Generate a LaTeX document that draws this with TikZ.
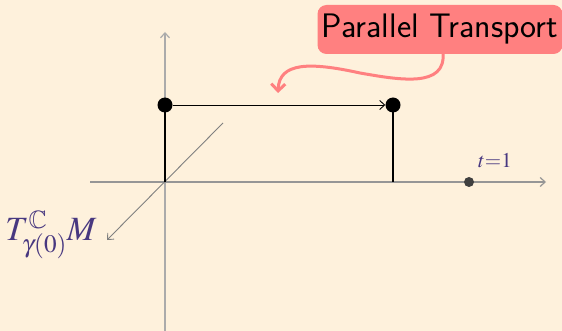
\RequirePackage{fix-cm}
\documentclass[tikz,border=0pt]{standalone}
\usepackage{mathptmx}
\usepackage{amssymb}
\usetikzlibrary{arrows.meta}
\definecolor{bg}{RGB}{254,241,220}
\definecolor{calloutpink}{RGB}{255,128,128}
\definecolor{labelpurple}{RGB}{72,56,128}
\definecolor{axisgray}{RGB}{150,150,150}
\tikzset{
  axis/.style={draw=axisgray, line width=1.2pt, -{Straight Barb[length=5pt,width=9pt]}},
  bigdot/.style={circle, fill=black, inner sep=0pt, minimum size=15pt},
  enddot/.style={circle, fill=black!75, inner sep=0pt, minimum size=10pt},
  stem/.style={draw=black, line width=2.2pt},
  mathlabel/.style={text=labelpurple, inner sep=0pt},
}
\begin{document}
\begin{tikzpicture}[x=1pt,y=-1pt]
\fill[bg] (0,0) rectangle (562,331);
\useasboundingbox (0,0) rectangle (562,331);
% axes
\coordinate (O) at (165,182);
\coordinate (ybot) at (165,335);
\coordinate (ytop) at (165,32);
\coordinate (xleft) at (90,182);
\coordinate (xright) at (546,182);
\coordinate (dup) at (223,123);
\coordinate (ddown) at (107,240);
\draw[axis, draw=axisgray!80] (ybot) -- (ytop);
\draw[axis] (xleft) -- (xright);
\draw[axis, line width=0.9pt, draw=black!50] (dup) -- (ddown);
% stems
\coordinate (b1) at (165,182);
\coordinate (b2) at (393,182);
\node[bigdot] (p1) at (165,105) {};
\node[bigdot] (p2) at (393,105) {};
\draw[stem] (p1.center) -- (b1);
\draw[stem] (p2.center) -- (b2);
\draw[line width=0.9pt, -{Straight Barb[length=5pt,width=9pt]}] (p1) -- (p2);
% t=1
\node[enddot] (t1) at (469,182) {};
\node[mathlabel, font=\fontsize{21}{24}\selectfont] (tl) at (495,161) {$t{=}1$};
% T label
\node[mathlabel, font=\fontsize{34}{38}\selectfont] (TL) at (51,235) {$T^{\mathbb{C}}_{\gamma(0)}M$};
% callout
\node[fill=calloutpink, rounded corners=9pt, minimum height=49pt, minimum width=245pt, inner sep=0pt,
      font=\sffamily\fontsize{34}{38}\selectfont] (PT) at (440,29.5) {Parallel Transport};
\coordinate (cs) at (443,53);
\coordinate (ce) at (278,93);
\draw[calloutpink, line width=3pt, line cap=round, -{Straight Barb[length=7pt,width=14pt, line width=3pt]}]
  (cs) .. controls (446,88) and (400,80) .. (360,73) .. controls (310,62) and (279,62) .. (ce);
\end{tikzpicture}
\end{document}
